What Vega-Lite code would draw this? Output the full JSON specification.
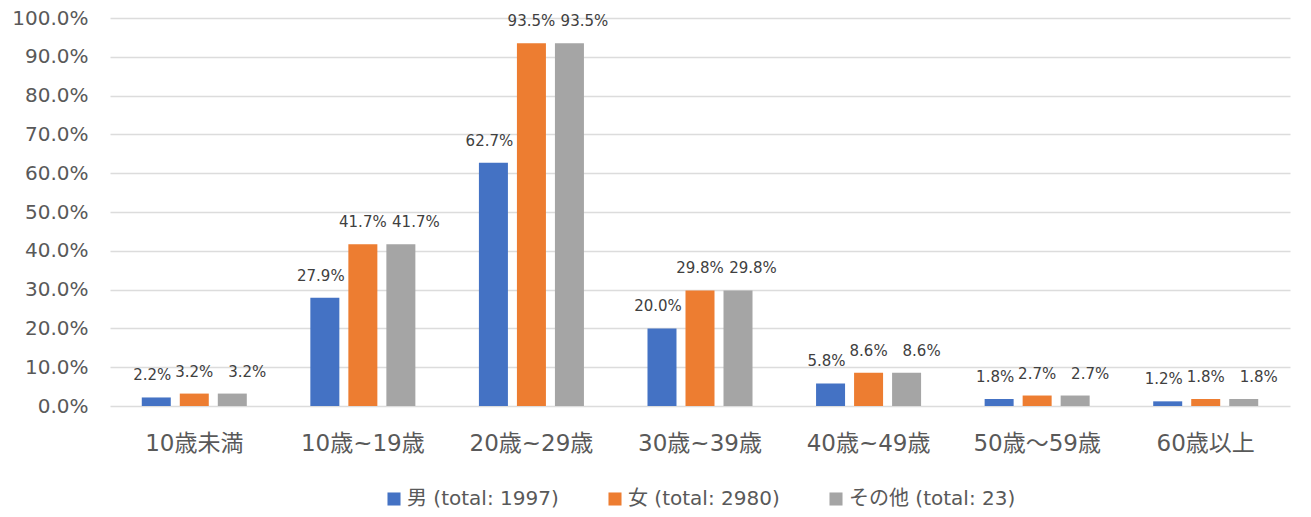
{
  "$schema": "https://vega.github.io/schema/vega-lite/v6.json",
  "autosize": "none",
  "width": 1180,
  "height": 388,
  "padding": {"left": 110, "top": 18, "right": 21, "bottom": 111},
  "background": "white",
  "config": {
    "font": "DejaVu Sans, Noto Sans CJK JP",
    "view": {"stroke": null},
    "legend": {"layout": {"bottom": {"anchor": "middle"}}}
  },
  "data": {
    "values": [
      {"age": "10歳未満", "sex": "男 (total: 1997)", "v": 0.022},
      {"age": "10歳未満", "sex": "女 (total: 2980)", "v": 0.032},
      {"age": "10歳未満", "sex": "その他 (total: 23)", "v": 0.032},
      {"age": "10歳~19歳", "sex": "男 (total: 1997)", "v": 0.279},
      {"age": "10歳~19歳", "sex": "女 (total: 2980)", "v": 0.417},
      {"age": "10歳~19歳", "sex": "その他 (total: 23)", "v": 0.417},
      {"age": "20歳~29歳", "sex": "男 (total: 1997)", "v": 0.627},
      {"age": "20歳~29歳", "sex": "女 (total: 2980)", "v": 0.935},
      {"age": "20歳~29歳", "sex": "その他 (total: 23)", "v": 0.935},
      {"age": "30歳~39歳", "sex": "男 (total: 1997)", "v": 0.200},
      {"age": "30歳~39歳", "sex": "女 (total: 2980)", "v": 0.298},
      {"age": "30歳~39歳", "sex": "その他 (total: 23)", "v": 0.298},
      {"age": "40歳~49歳", "sex": "男 (total: 1997)", "v": 0.058},
      {"age": "40歳~49歳", "sex": "女 (total: 2980)", "v": 0.086},
      {"age": "40歳~49歳", "sex": "その他 (total: 23)", "v": 0.086},
      {"age": "50歳～59歳", "sex": "男 (total: 1997)", "v": 0.018},
      {"age": "50歳～59歳", "sex": "女 (total: 2980)", "v": 0.027},
      {"age": "50歳～59歳", "sex": "その他 (total: 23)", "v": 0.027},
      {"age": "60歳以上", "sex": "男 (total: 1997)", "v": 0.012},
      {"age": "60歳以上", "sex": "女 (total: 2980)", "v": 0.018},
      {"age": "60歳以上", "sex": "その他 (total: 23)", "v": 0.018}
    ]
  },
  "encoding": {
    "x": {
      "field": "age", "type": "nominal", "sort": null,
      "scale": {"paddingInner": 0.377, "paddingOuter": 0.1885},
      "axis": {"title": null, "labelAngle": 0, "labelFontSize": 23, "labelColor": "#595959", "domain": false, "ticks": false, "labelPadding": 26}
    },
    "xOffset": {
      "field": "sex", "type": "nominal", "sort": null,
      "scale": {"paddingInner": 0.237, "paddingOuter": 0}
    },
    "y": {
      "field": "v", "type": "quantitative",
      "scale": {"domain": [0, 1]},
      "axis": {"title": null, "format": ".1%", "tickCount": 10, "labelFontSize": 20, "labelColor": "#595959", "domain": false, "ticks": false, "gridColor": "#dcdcdc", "gridWidth": 1.3, "labelPadding": 22}
    }
  },
  "layer": [
    {
      "mark": {"type": "bar"},
      "encoding": {
        "color": {
          "field": "sex", "type": "nominal", "sort": null,
          "scale": {"range": ["#4472C4", "#ED7D31", "#A5A5A5"]},
          "legend": {"title": null, "orient": "bottom", "direction": "horizontal", "symbolType": "square", "symbolSize": 170, "symbolStrokeWidth": 0, "labelFontSize": 20, "labelColor": "#595959", "labelLimit": 0, "columnPadding": 46, "offset": 34, "labelOffset": 3}
        }
      }
    },
    {
      "transform": [{"filter": "datum.sex === '男 (total: 1997)'"}],
      "mark": {"type": "text", "baseline": "bottom", "dy": -14, "dx": -4, "fontSize": 15, "color": "#404040"},
      "encoding": {
        "text": {"field": "v", "type": "quantitative", "format": ".1%"}
      }
    },
    {
      "transform": [{"filter": "datum.sex === '女 (total: 2980)'"}],
      "mark": {"type": "text", "baseline": "bottom", "dy": -14, "dx": 0, "fontSize": 15, "color": "#404040"},
      "encoding": {
        "text": {"field": "v", "type": "quantitative", "format": ".1%"}
      }
    },
    {
      "transform": [{"filter": "datum.sex === 'その他 (total: 23)'"}],
      "mark": {"type": "text", "baseline": "bottom", "dy": -14, "dx": 15, "fontSize": 15, "color": "#404040"},
      "encoding": {
        "text": {"field": "v", "type": "quantitative", "format": ".1%"}
      }
    }
  ]
}
